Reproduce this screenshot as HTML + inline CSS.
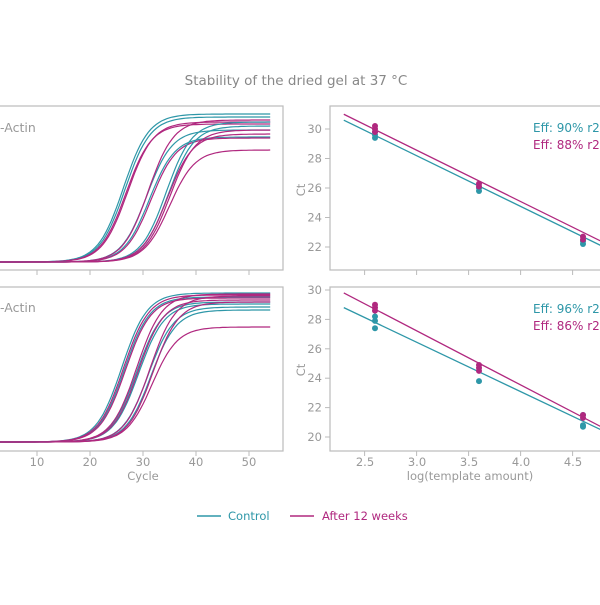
<!DOCTYPE html>
<html><head><meta charset="utf-8"><style>
body{margin:0;background:#fff;}
svg{font-family:"DejaVu Sans","Liberation Sans",sans-serif;}
</style></head><body>
<svg id="s" width="600" height="600" viewBox="0 0 600 600" xmlns="http://www.w3.org/2000/svg">
<rect width="600" height="600" fill="#fff"/>
<text x="296" y="85" font-size="13.5" fill="#888" text-anchor="middle">Stability of the dried gel at 37 °C</text>
<g fill="none" stroke="#bbb" stroke-width="1.2">
<rect x="-10" y="106" width="293" height="164"/>
<rect x="-10" y="287" width="293" height="164"/>
<rect x="330" y="106" width="290" height="164"/>
<rect x="330" y="287" width="290" height="164"/>
</g>
<g id="g"></g>
<g font-size="11.5" fill="#999">
<text x="0" y="132" font-size="12.5">-Actin</text>
<text x="0" y="312" font-size="12.5">-Actin</text>
<text x="37" y="466" text-anchor="middle">10</text>
<text x="90" y="466" text-anchor="middle">20</text>
<text x="143" y="466" text-anchor="middle">30</text>
<text x="196" y="466" text-anchor="middle">40</text>
<text x="249" y="466" text-anchor="middle">50</text>
<text x="143" y="480" text-anchor="middle">Cycle</text>
<text x="365" y="466" text-anchor="middle">2.5</text>
<text x="417" y="466" text-anchor="middle">3.0</text>
<text x="469" y="466" text-anchor="middle">3.5</text>
<text x="521" y="466" text-anchor="middle">4.0</text>
<text x="573" y="466" text-anchor="middle">4.5</text>
<text x="470" y="480" text-anchor="middle">log(template amount)</text>
<text x="305" y="190" text-anchor="middle" transform="rotate(-90 305 190)">Ct</text>
<text x="305" y="370" text-anchor="middle" transform="rotate(-90 305 370)">Ct</text>
</g>
<text x="533" y="132" font-size="12" fill="#2e97a8">Eff: 90% r2:</text>
<text x="533" y="149" font-size="12" fill="#b0287f">Eff: 88% r2:</text>
<text x="533" y="313" font-size="12" fill="#2e97a8">Eff: 96% r2:</text>
<text x="533" y="330" font-size="12" fill="#b0287f">Eff: 86% r2:</text>
<line x1="197" y1="516" x2="221" y2="516" stroke="#2e97a8" stroke-width="1.5"/>
<text x="228" y="520" font-size="11.5" fill="#2e97a8">Control</text>
<line x1="290" y1="516" x2="314" y2="516" stroke="#b0287f" stroke-width="1.5"/>
<text x="322" y="520" font-size="11.5" fill="#b0287f">After 12 weeks</text>
</svg>
<script>
(function(){
var g=document.getElementById('g'),NS="http://www.w3.org/2000/svg",T="#2e97a8",M="#b0287f";
function el(n,a){var e=document.createElementNS(NS,n);for(var k in a)e.setAttribute(k,a[k]);g.appendChild(e);return e;}
function cx(c){return -16+c*5.3;}
function curve(base,amp,c0,s,col){var d="";for(var c=0;c<=54;c+=0.5){var y=base-amp/(1+Math.exp(-(c-c0)/s));d+=(c?"L":"M")+cx(c).toFixed(1)+","+y.toFixed(1);}el('path',{d:d,fill:"none",stroke:col,"stroke-width":1.2});}
var S=2.4;
var tc=[[T,148,26.3],[T,145,26.6],[M,138,26.8],[M,140,27.1],[T,132,30.7],[T,125,31.2],[M,142,31],[M,124,31.5],[T,140,34.4],[T,136,34.8],[M,128,34.6],[M,112,35],[M,132,35.1]];
tc.forEach(function(a){curve(262,a[1],a[2],S,a[0]);});
var bc=[[T,149,26],[T,145,26.5],[M,147,26.3],[M,144,26.7],[T,140,28.8],[T,138,29.2],[M,148,28.8],[M,142,29.1],[T,135,31],[T,132,31.5],[M,146,31.3],[M,115,31.7],[M,140,31.9]];
bc.forEach(function(a){curve(442,a[1],a[2],S,a[0]);});
[37,90,143,196,249].forEach(function(x){el('line',{x1:x,y1:270,x2:x,y2:275,stroke:"#bbb"});el('line',{x1:x,y1:451,x2:x,y2:456,stroke:"#bbb"});});
function rx(v){return 375+(v-2.6)*104;}
[2.5,3,3.5,4,4.5].forEach(function(v){el('line',{x1:rx(v),y1:270,x2:rx(v),y2:275,stroke:"#bbb"});el('line',{x1:rx(v),y1:451,x2:rx(v),y2:456,stroke:"#bbb"});});
function ty(v){return 129+(30-v)*14.75;} function by(v){return 290+(30-v)*14.7;}
[30,28,26,24,22].forEach(function(v){el('line',{x1:325,y1:ty(v),x2:330,y2:ty(v),stroke:"#bbb"});var t=el('text',{x:322,y:ty(v)+4,"font-size":11.5,fill:"#999","text-anchor":"end"});t.textContent=v;});
[30,28,26,24,22,20].forEach(function(v){el('line',{x1:325,y1:by(v),x2:330,y2:by(v),stroke:"#bbb"});var t=el('text',{x:322,y:by(v)+4,"font-size":11.5,fill:"#999","text-anchor":"end"});t.textContent=v;});
function ln(f,a,b,col){el('line',{x1:rx(2.3),y1:f(a),x2:rx(4.8),y2:f(b),stroke:col,"stroke-width":1.3});}
ln(ty,30.6,22.0,T);ln(ty,31.0,22.3,M);ln(by,28.8,20.4,T);ln(by,29.8,20.6,M);
function pts(f,x,vals,col){vals.forEach(function(v){el('circle',{cx:rx(x),cy:f(v),r:3,fill:col});});}
pts(ty,2.6,[29.4,29.6,29.8],T);pts(ty,3.6,[25.8,26.0],T);pts(ty,4.6,[22.2,22.4],T);
pts(ty,2.6,[29.8,30.0,30.2],M);pts(ty,3.6,[26.1,26.3],M);pts(ty,4.6,[22.5,22.7],M);
pts(by,2.6,[27.4,27.9,28.2],T);pts(by,3.6,[23.8],T);pts(by,4.6,[20.7,20.8,21.5],T);
pts(by,2.6,[28.6,28.8,29.0],M);pts(by,3.6,[24.5,24.7,24.9],M);pts(by,4.6,[21.3,21.5],M);
})();
</script>
</body></html>
